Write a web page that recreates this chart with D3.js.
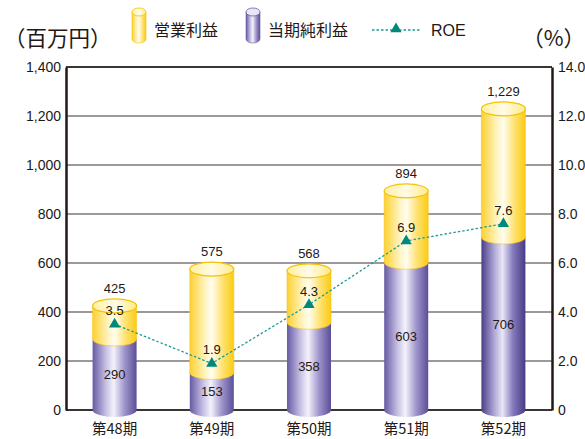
<!DOCTYPE html>
<html>
<head>
<meta charset="utf-8">
<script src="https://cdn.jsdelivr.net/npm/d3@7"></script>
<style>
body { margin: 0; background: #fff; }
text { font-family: "Liberation Sans", Arial, sans-serif; fill: #231815; }
.jp { font-family: "Noto Sans CJK JP", sans-serif; }
</style>
</head>
<body>
<svg id="chart" width="585" height="439"></svg>
<script>
var periods = ["第48期", "第49期", "第50期", "第51期", "第52期"];
var opProfit = [425, 575, 568, 894, 1229];
var netProfit = [290, 153, 358, 603, 706];
var roe = [3.5, 1.9, 4.3, 6.9, 7.6];
var leftTicks = [0, 200, 400, 600, 800, 1000, 1200, 1400];
var rightTicks = [0, 2, 4, 6, 8, 10, 12, 14];

var formatAsInteger = d3.format(",");
var formatPct = function(d) { return d == 0 ? "0" : d3.format(".1f")(d); };

var margin = {top: 67, right: 33, bottom: 29, left: 66};
var width = 585 - margin.left - margin.right;
var height = 439 - margin.top - margin.bottom;

var svg = d3.select("svg#chart");

var defs = svg.append("defs");
function cylGrad(id, stops) {
  var g = defs.append("linearGradient").attr("id", id)
    .attr("x1", "0%").attr("x2", "100%").attr("y1", "0%").attr("y2", "0%");
  stops.forEach(function(s) {
    g.append("stop").attr("offset", s[0]).attr("stop-color", s[1]);
  });
}
cylGrad("yellowBody", [["0%", "#fdd030"], ["35%", "#fff4c0"], ["50%", "#fffdf0"], ["75%", "#ffe270"], ["100%", "#fbcb14"]]);
cylGrad("purpleBody", [["0%", "#665aa3"], ["30%", "#c6bfe4"], ["48%", "#f4f2fb"], ["72%", "#a197cd"], ["100%", "#5b4e97"]]);
cylGrad("purpleDark", [["0%", "#4a3e87"], ["30%", "#b2aad8"], ["48%", "#e9e6f5"], ["72%", "#8479bb"], ["100%", "#473b85"]]);
cylGrad("yellowTop", [["0%", "#fff0a0"], ["50%", "#fffbe6"], ["100%", "#ffeb8a"]]);

var g = svg.append("g").attr("transform", "translate(" + margin.left + "," + margin.top + ")");

var x = d3.scaleBand().domain(periods).range([0, width]).padding(0);
var y = d3.scaleLinear().domain([0, 1400]).range([height, 0]);
var y2 = d3.scaleLinear().domain([0, 14]).range([height, 0]);
var cx = d => x(d) + x.bandwidth() / 2;

// grid lines
g.selectAll("line.grid").data(leftTicks).enter().append("line")
  .attr("class", "grid")
  .attr("x1", 0).attr("x2", width)
  .attr("y1", d => y(d)).attr("y2", d => y(d))
  .attr("stroke", "#3a3433")
  .attr("stroke-width", d => (d == 0 || d == 1400) ? 2 : 1.2);

// left axis
var leftAxis = g.append("g").call(d3.axisLeft(y).tickValues(leftTicks).tickSize(0).tickPadding(5).tickFormat(formatAsInteger));
leftAxis.select(".domain").attr("stroke", "#231815").attr("stroke-width", 2.5);
leftAxis.selectAll("text").attr("font-size", 14).attr("dy", "0.35em");

var rightAxis = g.append("g").attr("transform", "translate(" + width + ",0)")
  .call(d3.axisRight(y2).tickValues(rightTicks).tickSize(0).tickPadding(6).tickFormat(formatPct));
rightAxis.select(".domain").attr("stroke", "#231815").attr("stroke-width", 2.5);
rightAxis.selectAll("text").attr("font-size", 14).attr("dy", "0.35em");

svg.selectAll(".tick text").style("font-family", "'Liberation Sans', Arial, sans-serif").attr("fill", "#231815");

// cylinders
var bw = 44, rx = bw / 2, ry = 7;
function segPath(cx, yTop, yBot) {
  return "M" + (cx - rx) + "," + yTop + " L" + (cx - rx) + "," + yBot +
    " A" + rx + "," + ry + " 0 0 0 " + (cx + rx) + "," + yBot +
    " L" + (cx + rx) + "," + yTop + " Z";
}

var bars = g.selectAll("g.bar").data(periods).enter().append("g").attr("class", "bar");

bars.append("path")
  .attr("d", (d, i) => segPath(cx(d), y(netProfit[i]), y(0)))
  .attr("fill", (d, i) => i == 4 ? "url(#purpleDark)" : "url(#purpleBody)");

bars.append("path")
  .attr("d", (d, i) => segPath(cx(d), y(opProfit[i]), y(netProfit[i])))
  .attr("fill", "url(#yellowBody)")
  .attr("stroke", "#f7c51a").attr("stroke-width", 0.6);

bars.append("ellipse")
  .attr("cx", d => cx(d))
  .attr("cy", (d, i) => y(opProfit[i]))
  .attr("rx", rx).attr("ry", ry)
  .attr("fill", "url(#yellowTop)")
  .attr("stroke", "#f5c200").attr("stroke-width", 1.2);

// value labels
bars.append("text")
  .attr("x", d => cx(d))
  .attr("y", (d, i) => y(opProfit[i]) - 13)
  .attr("text-anchor", "middle").attr("font-size", 13)
  .text((d, i) => formatAsInteger(opProfit[i]));

bars.append("text")
  .attr("x", d => cx(d))
  .attr("y", (d, i) => Math.min(y(netProfit[i] / 2) + 5, y(0) - 2))
  .attr("text-anchor", "middle").attr("font-size", 13)
  .text((d, i) => formatAsInteger(netProfit[i]));

// ROE line
var line = d3.line()
  .x((d, i) => cx(periods[i]))
  .y(d => y2(d));

g.append("path").datum(roe)
  .attr("d", line)
  .attr("fill", "none")
  .attr("stroke", "#1d9a94").attr("stroke-width", 1.3)
  .attr("stroke-dasharray", "2.5,2");

var tri = d3.symbol().type(d3.symbolTriangle).size(55);
g.selectAll("path.roe").data(roe).enter().append("path")
  .attr("class", "roe")
  .attr("d", tri)
  .attr("transform", (d, i) => "translate(" + cx(periods[i]) + "," + y2(d) + ")")
  .attr("fill", "#00887a");

g.selectAll("text.roe").data(roe).enter().append("text")
  .attr("class", "roe")
  .attr("x", (d, i) => cx(periods[i]))
  .attr("y", d => y2(d) - 9)
  .attr("text-anchor", "middle").attr("font-size", 13)
  .text(d => d3.format(".1f")(d));

// category labels
g.selectAll("text.cat").data(periods).enter().append("text")
  .attr("class", "cat jp")
  .attr("x", d => cx(d))
  .attr("y", height + 24)
  .attr("text-anchor", "middle").attr("font-size", 14.5)
  .text(d => d);

// unit labels
svg.append("text").attr("class", "jp").attr("x", 4).attr("y", 46).attr("font-size", 21.5).text("（百万円）");
svg.append("text").attr("class", "jp").attr("x", 585).attr("y", 46).attr("text-anchor", "end").attr("font-size", 21.5).text("（%）");

// legend
var legend = svg.append("g");
function legendCyl(lx, fillBody, fillTop, stroke) {
  legend.append("path").attr("d", "M" + lx + ",12 L" + lx + ",39 A7,4 0 0 0 " + (lx + 14) + ",39 L" + (lx + 14) + ",12 Z")
    .attr("fill", fillBody).attr("stroke", stroke).attr("stroke-width", 0.6);
  legend.append("ellipse").attr("cx", lx + 7).attr("cy", 12).attr("rx", 7).attr("ry", 4)
    .attr("fill", fillTop).attr("stroke", stroke).attr("stroke-width", 0.8);
}
legendCyl(132, "url(#yellowBody)", "url(#yellowTop)", "#f5c200");
legend.append("text").attr("class", "jp").attr("x", 154).attr("y", 36).attr("font-size", 16).text("営業利益");
legendCyl(246, "url(#purpleBody)", "#e9e6f5", "#6a5ea6");
legend.append("text").attr("class", "jp").attr("x", 268).attr("y", 36).attr("font-size", 16).text("当期純利益");
legend.append("line").attr("x1", 372).attr("x2", 421).attr("y1", 30).attr("y2", 30)
  .attr("stroke", "#1d9a94").attr("stroke-width", 1.3).attr("stroke-dasharray", "2.5,2");
legend.append("path").attr("d", tri).attr("transform", "translate(396,29)").attr("fill", "#00887a");
legend.append("text").attr("x", 431).attr("y", 36).attr("font-size", 16).text("ROE");
</script>
</body>
</html>
